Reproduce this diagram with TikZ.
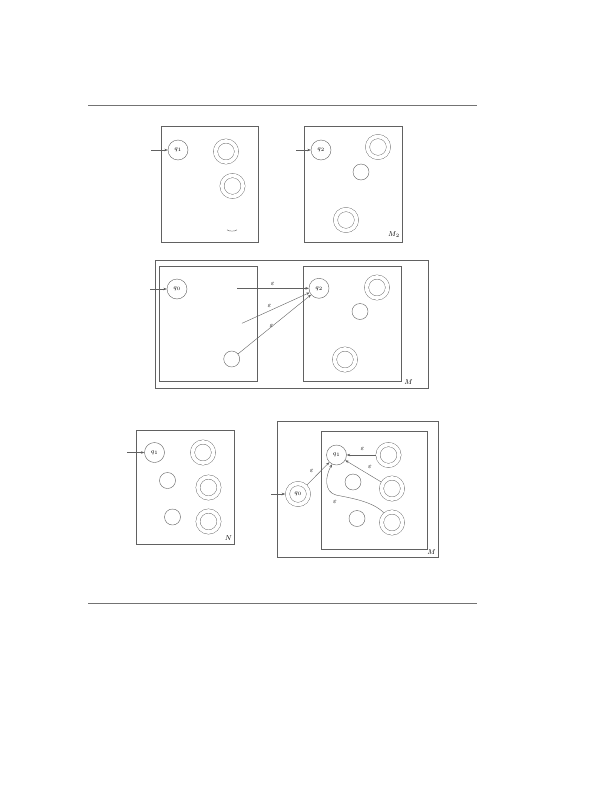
\documentclass[tikz,border=0pt]{standalone}
\usetikzlibrary{arrows.meta}
\begin{document}
\begin{tikzpicture}[x=1pt,y=-1pt,
  ln/.style={draw=black!62, line width=0.4pt},
  rulebar/.style={draw=black!55, line width=0.9pt},
  st/.style={circle, ln, minimum size=20pt, inner sep=0pt, font=\fontsize{6.5}{7}\selectfont},
  sst/.style={circle, ln, minimum size=16pt, inner sep=0pt},
  dst/.style={circle, draw=black!62, line width=0.4pt, double=white, double distance=3.8pt, minimum size=21pt, inner sep=0pt, outer sep=2.3pt, font=\fontsize{6.5}{7}\selectfont},
  tr/.style={ln, -{Stealth[length=3.5pt,width=2.6pt]}},
  lab/.style={font=\fontsize{7}{8}\selectfont, inner sep=0.5pt},
  nm/.style={font=\fontsize{7}{8}\selectfont, inner sep=0pt}
]
\useasboundingbox (0,0) rectangle (612,792);
% rules
\draw[rulebar] (88,105) -- (477,105);
\draw[rulebar] (88,603) -- (477,603);

% ---------- top: two machines ----------
\draw[ln] (161,126) rectangle (258,242);
\node[st] (a1) at (178,150) {$q_1$};
\coordinate (a1in) at (151,150);
\draw[tr] (a1in) -- (a1);
\node[dst] (a2) at (226,151.5) {};
\node[dst] (a3) at (232.5,186) {};
\draw[ln] (227,229.8) .. controls (228,231.5) and (236,231.5) .. (237,229.8);

\draw[ln] (304,126) rectangle (402,242);
\node[st] (b1) at (321,150) {$q_2$};
\coordinate (b1in) at (296,150);
\draw[tr] (b1in) -- (b1);
\node[dst] (b2) at (378,147) {};
\node[sst] (b3) at (361,172) {};
\node[dst] (b4) at (346,220) {};
\node[nm] (bM) at (394,235) {$M_2$};

% ---------- middle: concatenation ----------
\draw[ln] (155,260) rectangle (428,388);
\draw[ln] (159,266) rectangle (257,381);
\draw[ln] (303,266) rectangle (401,381);
\node[st] (c1) at (177,289) {$q_0$};
\coordinate (c1in) at (150,289);
\draw[tr] (c1in) -- (c1);
\node[sst] (c2) at (231.7,359) {};
\coordinate (cf1) at (237,288.3);
\coordinate (cf2) at (242,323.3);
\node[st] (d1) at (319,288.3) {$q_2$};
\node[dst] (d2) at (377,287.5) {};
\node[sst] (d3) at (360,311.5) {};
\node[dst] (d4) at (345,359.5) {};
\draw[tr] (cf1) -- (d1);
\draw[tr] (cf2) -- (d1);
\draw[tr] (c2) -- (d1);
\node[lab] at (272.7,284) {$\varepsilon$};
\node[lab] at (269.5,305.5) {$\varepsilon$};
\node[lab] at (271.5,326) {$\varepsilon$};
\node[nm] (cM) at (408.5,382) {$M$};

% ---------- bottom left: N ----------
\draw[ln] (136,430) rectangle (234,544);
\node[st] (e1) at (154.5,452.5) {$q_1$};
\coordinate (e1in) at (127,452.5);
\draw[tr] (e1in) -- (e1);
\node[dst] (e2) at (203,452.5) {};
\node[sst] (e3) at (167.5,480.5) {};
\node[dst] (e4) at (208.5,487.5) {};
\node[sst] (e5) at (172.5,517) {};
\node[dst] (e6) at (208.5,521.5) {};
\node[nm] (eN) at (228.5,538) {$N$};

% ---------- bottom right: star ----------
\draw[ln] (277,421) rectangle (438,557);
\draw[ln] (321,431) rectangle (427,549);
\node[dst] (f0) at (298,494) {$q_0$};
\coordinate (f0in) at (271,494);
\draw[tr] (f0in) -- (f0);
\node[st] (f1) at (336.5,455) {$q_1$};
\node[dst] (f2) at (388.5,455) {};
\node[sst] (f3) at (353,482) {};
\node[dst] (f4) at (392,488.5) {};
\node[sst] (f5) at (357,518.5) {};
\node[dst] (f6) at (392,522.5) {};
\draw[tr] (f0) -- (f1);
\draw[tr] (f2) -- (f1);
\draw[tr] (f4) -- (f1);
\draw[tr] (f6.130) .. controls (372,501) and (350,498) .. (336,495)
      .. controls (324,492) and (325,476) .. (f1.245);
\node[lab] at (311.7,471) {$\varepsilon$};
\node[lab] at (362.5,449) {$\varepsilon$};
\node[lab] at (370,467) {$\varepsilon$};
\node[lab] at (335,501.5) {$\varepsilon$};
\node[nm] (fM) at (431.5,552.5) {$M$};
\end{tikzpicture}
\end{document}
